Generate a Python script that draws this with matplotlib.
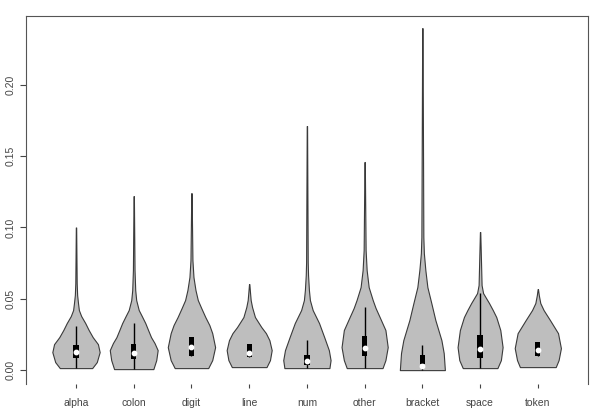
import numpy as np
import matplotlib
matplotlib.use("Agg")
import matplotlib.pyplot as plt

plt.rcParams["font.family"] = ["Liberation Sans", "DejaVu Sans"]

# categories along the x axis
names = ["alpha", "colon", "digit", "line", "num", "other", "bracket", "space", "token"]

# violin outlines: y values and half widths
alpha_y = [0.0014, 0.0056, 0.0126, 0.0182, 0.0231, 0.0281, 0.0330, 0.0379, 0.0421, 0.0470, 0.0526, 0.0610, 0.1000]
alpha_w = [0.28, 0.36, 0.41, 0.38, 0.29, 0.22, 0.16, 0.09, 0.05, 0.035, 0.02, 0.012, 0.003]
colon_y = [0.0007, 0.0070, 0.0140, 0.0190, 0.0231, 0.0280, 0.0330, 0.0379, 0.0421, 0.0491, 0.0561, 0.0701, 0.1220]
colon_w = [0.34, 0.39, 0.415, 0.36, 0.30, 0.25, 0.20, 0.14, 0.087, 0.043, 0.026, 0.014, 0.003]
digit_y = [0.0014, 0.0070, 0.0161, 0.0259, 0.0316, 0.0372, 0.0435, 0.0491, 0.0561, 0.0652, 0.0771, 0.1241]
digit_w = [0.29, 0.36, 0.41, 0.36, 0.31, 0.24, 0.17, 0.11, 0.07, 0.035, 0.017, 0.003]
line_y = [0.0021, 0.0070, 0.0140, 0.0210, 0.0259, 0.0302, 0.0372, 0.0442, 0.0491, 0.0547, 0.0603]
line_w = [0.30, 0.36, 0.39, 0.35, 0.29, 0.21, 0.10, 0.05, 0.026, 0.014, 0.003]
num_y = [0.0014, 0.0070, 0.0140, 0.0231, 0.0330, 0.0421, 0.0491, 0.0561, 0.0666, 0.0757, 0.1711]
num_w = [0.39, 0.41, 0.38, 0.30, 0.21, 0.10, 0.052, 0.035, 0.02, 0.014, 0.003]
other_y = [0.0014, 0.0070, 0.0161, 0.0281, 0.0372, 0.0435, 0.0491, 0.0582, 0.0701, 0.0842, 0.1459]
other_w = [0.31, 0.36, 0.40, 0.36, 0.26, 0.19, 0.14, 0.07, 0.035, 0.017, 0.003]
bracket_y = [0.0, 0.0119, 0.0210, 0.0351, 0.0470, 0.0582, 0.0701, 0.0820, 0.0933, 0.2398]
bracket_w = [0.39, 0.37, 0.33, 0.225, 0.155, 0.087, 0.052, 0.026, 0.017, 0.003]
space_y = [0.0014, 0.0070, 0.0161, 0.0281, 0.0372, 0.0421, 0.0470, 0.0540, 0.0596, 0.0968]
space_w = [0.30, 0.36, 0.39, 0.35, 0.28, 0.22, 0.155, 0.052, 0.026, 0.003]
token_y = [0.0021, 0.0070, 0.0154, 0.0259, 0.0351, 0.0421, 0.0470, 0.0526, 0.0568]
token_w = [0.31, 0.36, 0.40, 0.35, 0.21, 0.10, 0.043, 0.017, 0.003]

outline_y = [alpha_y, colon_y, digit_y, line_y, num_y, other_y, bracket_y, space_y, token_y]
outline_w = [alpha_w, colon_w, digit_w, line_w, num_w, other_w, bracket_w, space_w, token_w]

# box stats
q1 = [0.0084, 0.0077, 0.0098, 0.0091, 0.0035, 0.0098, 0.0042, 0.0084, 0.0098]
med = [0.0126, 0.0119, 0.0161, 0.0119, 0.0063, 0.0154, 0.0028, 0.0147, 0.0140]
q3 = [0.0175, 0.0182, 0.0231, 0.0182, 0.0105, 0.0238, 0.0105, 0.0245, 0.0196]
whis_lo = [0.0014, 0.0007, 0.0098, 0.0091, 0.0014, 0.0014, 0.0, 0.0014, 0.0098]
whis_hi = [0.0309, 0.0330, 0.0231, 0.0182, 0.0210, 0.0442, 0.0175, 0.0540, 0.0196]

fig = plt.figure(figsize=(5.91, 4.13), dpi=100)
ax = fig.add_axes([0.044, 0.070, 0.951, 0.891])

for i in range(len(names)):
    cx = i + 1
    y = np.array(outline_y[i])
    w = np.array(outline_w[i])
    ax.fill_betweenx(y, cx - w, cx + w, facecolor="#bebebe", edgecolor="#3a3a3a", linewidth=0.8)
    ax.vlines(cx, whis_lo[i], whis_hi[i], color="black", linewidth=1)
    ax.bar(cx, q3[i] - q1[i], bottom=q1[i], width=0.09, color="black")
    ax.scatter(cx, med[i], s=10, color="white", zorder=5)

ax.set_xlim(0.134, 9.87)
ax.set_ylim(-0.0098, 0.2482)

ax.set_yticks([0.00, 0.05, 0.10, 0.15, 0.20])
ax.set_yticklabels(["0.00", "0.05", "0.10", "0.15", "0.20"], rotation=90, va="center")
ax.set_xticks(range(1, len(names) + 1))
ax.set_xticklabels(names)

ax.tick_params(axis="y", length=4.3, width=0.8, pad=3.5, labelsize=7.5, colors="#444444")
ax.tick_params(axis="x", length=3, width=0.8, pad=7, labelsize=7.5, colors="#444444")
ax.spines["bottom"].set_visible(False)
for s in ["left", "top", "right"]:
    ax.spines[s].set_color("#555555")
    ax.spines[s].set_linewidth(0.8)

plt.savefig("out.png", dpi=100)
